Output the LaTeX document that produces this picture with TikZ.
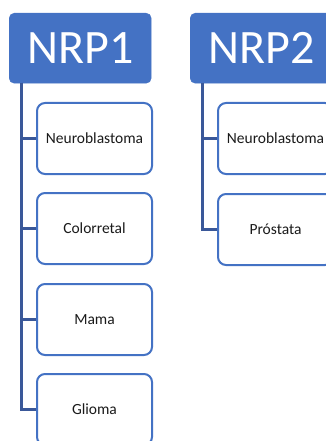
\documentclass[tikz,border=0pt]{standalone}
\usepackage{fontspec}
\setmainfont{Carlito}
\definecolor{boxblue}{HTML}{4472C4}
\definecolor{linkblue}{HTML}{3A5899}
\definecolor{txt}{HTML}{1A1A1A}
\begin{document}
\begin{tikzpicture}[x=1pt,y=-1pt,
  parentbox/.style={fill=boxblue,draw=boxblue,rounded corners=5pt,minimum width=142pt,minimum height=70pt,inner sep=0pt,text=white,font=\fontsize{48}{50}\selectfont,anchor=north west},
  childbox/.style={draw=boxblue,line width=2pt,fill=white,rounded corners=8pt,minimum width=115pt,minimum height=71pt,inner sep=0pt,text=txt,font=\fontsize{15.5}{17}\selectfont},
  link/.style={draw=linkblue,line width=2.3pt}]
\useasboundingbox (0,0) rectangle (325,441);
\node[parentbox] (p1) at (9,13) {NRP1};
\node[parentbox] (p2) at (190,13) {NRP2};
\node[childbox] (a1) at (94.5,138.5) {Neuroblastoma};
\node[childbox] (a2) at (94.5,228.5) {Colorretal};
\node[childbox] (a3) at (94.5,319.5) {Mama};
\node[childbox] (a4) at (94.5,409.5) {Glioma};
\node[childbox] (b1) at (275.5,138.5) {Neuroblastoma};
\node[childbox] (b2) at (275.5,229.5) {Próstata};
\coordinate (s1) at (21.5,83);
\coordinate (s2) at (202.5,83);
\draw[link] (s1) |- (a4.west);
\foreach \c in {a1,a2,a3} \draw[link] (s1) |- (\c.west);
\draw[link] (s2) |- (b2.west);
\draw[link] (s2) |- (b1.west);
\end{tikzpicture}
\end{document}
